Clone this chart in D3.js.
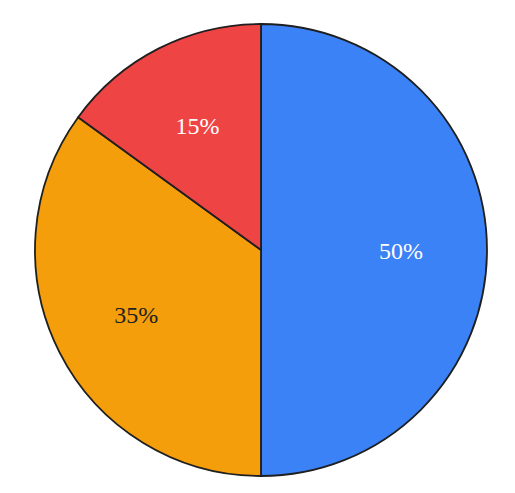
<!DOCTYPE html>
<html>
<head>
<meta charset="utf-8">
<script src="https://cdn.jsdelivr.net/npm/d3@7"></script>
<style>
  html, body { margin: 0; padding: 0; background: #fff; }
</style>
</head>
<body>
<div id="chart"></div>
<script>
const labels = ['50%', '35%', '15%'];
const values = [50, 35, 15];
const colors = ['#3b82f6', '#f59e0b', '#ef4444'];
const textColors = ['#ffffff', '#222222', '#ffffff'];

const width = 515, height = 493;
const cx = 261, cy = 250, radius = 226;

const svg = d3.select('#chart').append('svg')
  .attr('width', width)
  .attr('height', height);

const g = svg.append('g')
  .attr('transform', `translate(${cx},${cy})`);

const pie = d3.pie().sort(null).value(d => d);
const arcs = pie(values);

const arc = d3.arc().innerRadius(0).outerRadius(radius);
const labelArc = d3.arc().innerRadius(radius * 0.62).outerRadius(radius * 0.62);

g.selectAll('path')
  .data(arcs)
  .enter().append('path')
  .attr('d', arc)
  .attr('fill', (d, i) => colors[i])
  .attr('stroke', '#1f1f1f')
  .attr('stroke-width', 1.8)
  .attr('stroke-linejoin', 'round');

g.selectAll('text')
  .data(arcs)
  .enter().append('text')
  .attr('transform', d => `translate(${labelArc.centroid(d)})`)
  .attr('text-anchor', 'middle')
  .attr('dy', '0.38em')
  .attr('font-family', '"Liberation Serif", "DejaVu Serif", serif')
  .attr('font-size', 24)
  .attr('fill', (d, i) => textColors[i])
  .text((d, i) => labels[i]);
</script>
</body>
</html>
